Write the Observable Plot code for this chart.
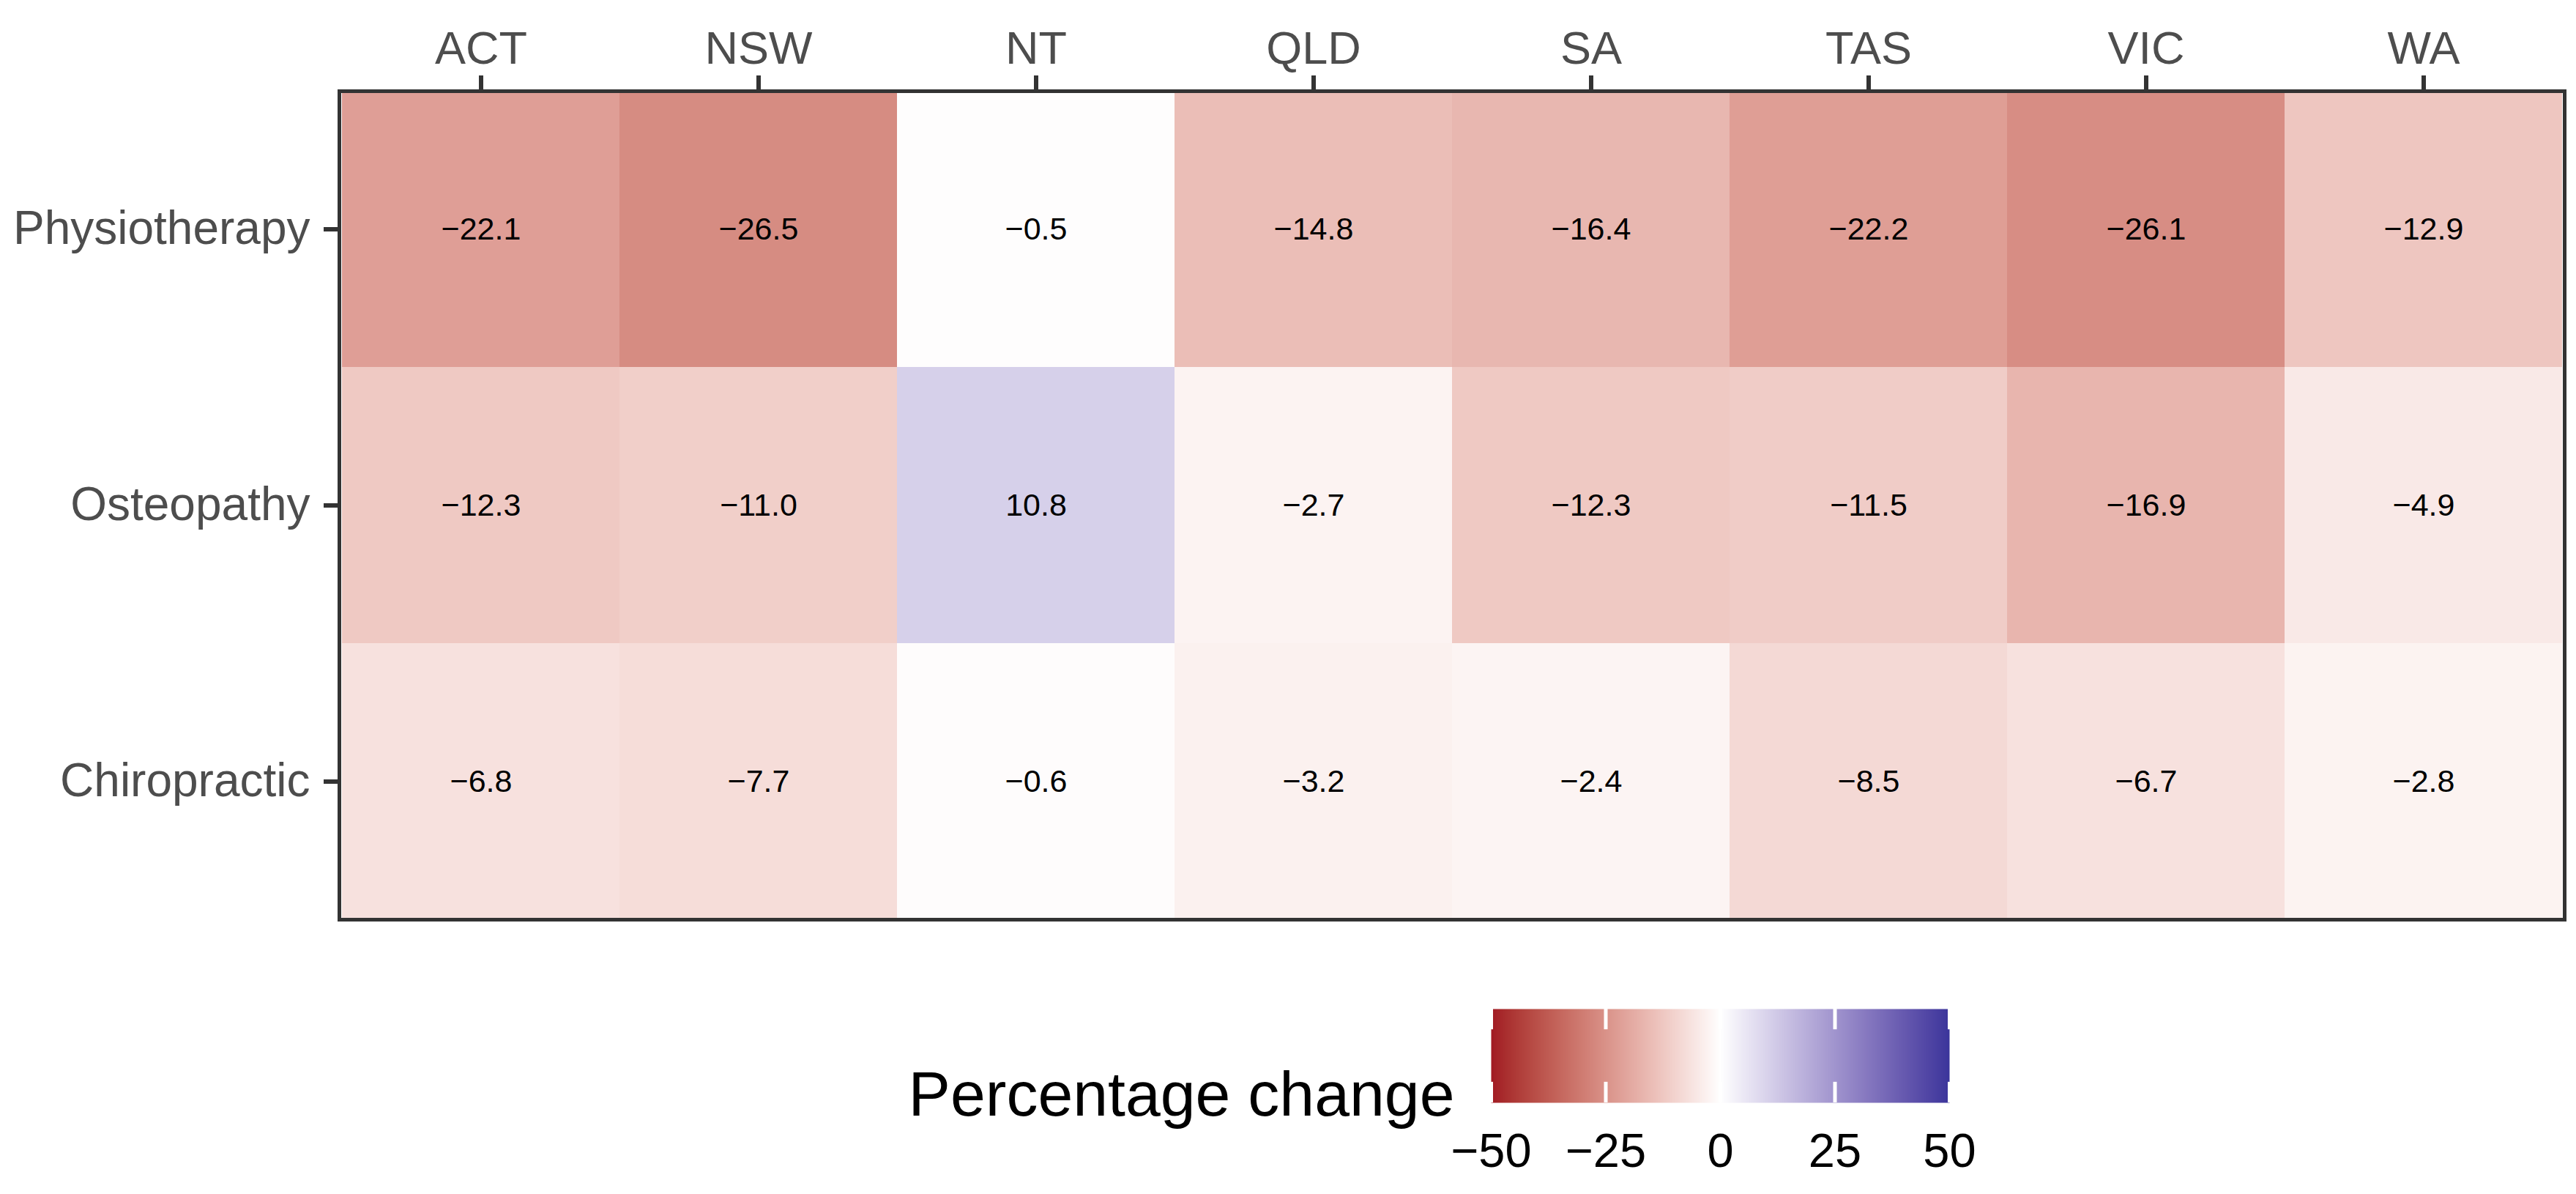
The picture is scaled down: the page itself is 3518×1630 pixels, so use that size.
<!DOCTYPE html>
<html>
<head>
<meta charset="utf-8">
<script src="https://cdn.jsdelivr.net/npm/d3@7"></script>
<script src="https://cdn.jsdelivr.net/npm/@observablehq/plot@0.6"></script>
<style>
  html, body { margin: 0; padding: 0; background: #ffffff; }
  #chart svg { display: block; }
</style>
</head>
<body>
<div id="chart"></div>
<script>
const states = ["ACT", "NSW", "NT", "QLD", "SA", "TAS", "VIC", "WA"];
const professions = ["Physiotherapy", "Osteopathy", "Chiropractic"];
const physiotherapy = [-22.1, -26.5, -0.5, -14.8, -16.4, -22.2, -26.1, -12.9];
const osteopathy = [-12.3, -11.0, 10.8, -2.7, -12.3, -11.5, -16.9, -4.9];
const chiropractic = [-6.8, -7.7, -0.6, -3.2, -2.4, -8.5, -6.7, -2.8];
const legendTicks = [-50, -25, 0, 25, 50];
const legendTitle = "Percentage change";

const seriesByProfession = {Physiotherapy: physiotherapy, Osteopathy: osteopathy, Chiropractic: chiropractic};
const data = [];
for (const p of professions) {
  seriesByProfession[p].forEach((v, i) => data.push({state: states[i], profession: p, value: v}));
}

const font = "'Liberation Sans', Arial, Helvetica, sans-serif";
const colorScale = {
  type: "linear",
  domain: [-50, 0, 50],
  range: ["#a11923", "#ffffff", "#3b359b"],
  interpolate: "lab"
};
const fmt = v => (v < 0 ? "\u2212" : "") + Math.abs(v).toFixed(1);

const main = Plot.plot({
  width: 3518,
  height: 1290,
  marginTop: 124,
  marginLeft: 463,
  marginRight: 16,
  marginBottom: 35,
  style: {fontFamily: font, background: "#ffffff", overflow: "visible"},
  x: {domain: states, padding: 0, axis: null},
  y: {domain: professions, padding: 0, axis: null},
  color: colorScale,
  marks: [
    Plot.cell(data, {x: "state", y: "profession", fill: "value", inset: 0}),
    Plot.text(data, {x: "state", y: "profession", text: d => fmt(d.value), fontSize: 43, fill: "#000000"}),
    Plot.frame({stroke: "#333333", strokeWidth: 5}),
    Plot.axisX({anchor: "top", tickSize: 22, tickPadding: 16, fontSize: 63, stroke: "#333333", fill: "#4d4d4d", strokeWidth: 6, label: null}),
    Plot.axisY({anchor: "left", tickSize: 21, tickPadding: 19, fontSize: 64, stroke: "#333333", fill: "#4d4d4d", strokeWidth: 6, label: null})
  ]
});

const legend = Plot.plot({
  width: 3518,
  height: 340,
  marginTop: 87,
  marginBottom: 125,
  marginLeft: 2036,
  marginRight: 856,
  style: {fontFamily: font, background: "#ffffff", overflow: "visible"},
  x: {domain: [-50, 50], axis: null},
  y: {domain: [0, 1], axis: null},
  color: colorScale,
  marks: [
    Plot.raster({x1: -50, x2: 50, y1: 0, y2: 1, width: 626, height: 1, fill: (x, y) => x, imageRendering: "auto"}),
    Plot.ruleX(legendTicks, {y1: 0, y2: 0.22, stroke: "#ffffff", strokeWidth: 5}),
    Plot.ruleX(legendTicks, {y1: 0.78, y2: 1, stroke: "#ffffff", strokeWidth: 5}),
    Plot.axisX({anchor: "bottom", ticks: legendTicks, tickSize: 0, tickPadding: 41, fontSize: 65, fill: "#000000", label: null}),
    Plot.text([legendTitle], {text: d => d, frameAnchor: "bottom-left", dx: -50, dy: 17, textAnchor: "end", lineAnchor: "bottom", fontSize: 86, fill: "#000000"})
  ]
});

const root = document.getElementById("chart");
root.appendChild(main);
root.appendChild(legend);
</script>
</body>
</html>
